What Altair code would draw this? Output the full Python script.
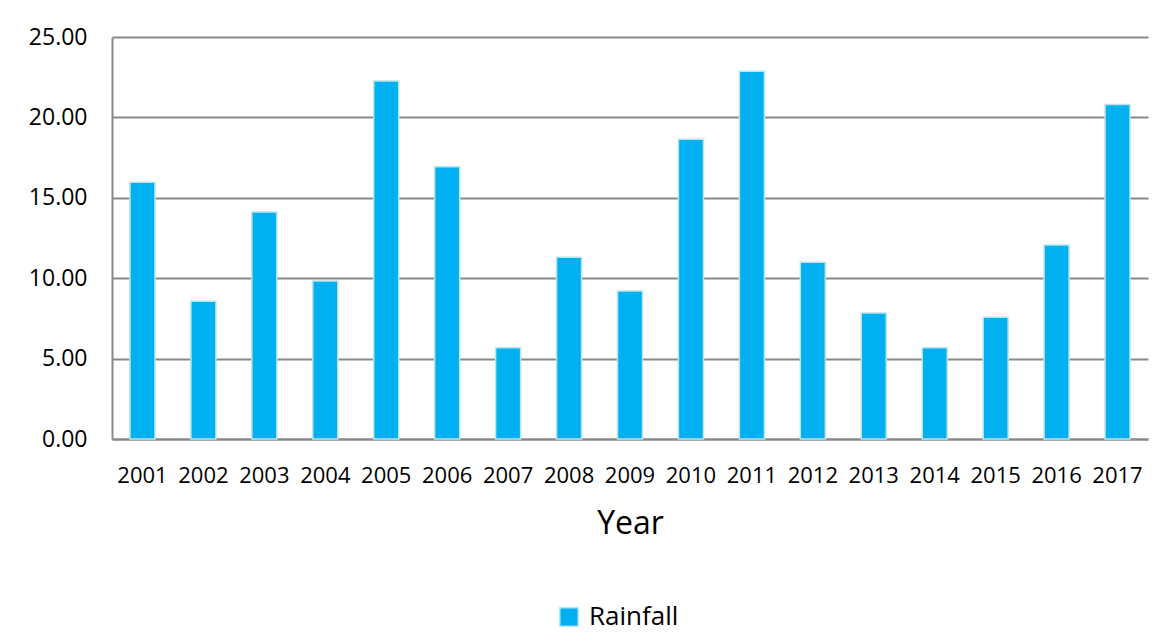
import altair as alt
import pandas as pd

years = ["2001", "2002", "2003", "2004", "2005", "2006", "2007", "2008", "2009",
         "2010", "2011", "2012", "2013", "2014", "2015", "2016", "2017"]
rainfall = [15.96, 8.56, 14.12, 9.83, 22.26, 16.93, 5.68, 11.30, 9.20,
            18.64, 22.87, 10.99, 7.84, 5.68, 7.57, 12.06, 20.81]
series = ["Rainfall"] * len(years)
y_ticks = [0, 5, 10, 15, 20, 25]

df = pd.DataFrame({"Year": years, "Rainfall": rainfall, "Series": series})

FONT = "Open Sans"
GRID = "#888888"

bars = alt.Chart(df).mark_bar(
    stroke="#BDE3EA", strokeWidth=1.5, fillOpacity=1
).encode(
    x=alt.X("Year:N", sort=years,
            scale=alt.Scale(paddingInner=0.59, paddingOuter=0.295),
            axis=alt.Axis(title="Year", labelAngle=0, ticks=False, tickSize=0,
                          labelFont=FONT, labelFontSize=22, labelColor="#000000",
                          labelBaseline="alphabetic", labelPadding=43,
                          titleFont=FONT, titleFontSize=32, titleFontWeight="normal",
                          titleColor="#000000", titleBaseline="alphabetic", titleY=94,
                          domainColor=GRID, domainWidth=2, grid=False)),
    y=alt.Y("Rainfall:Q",
            scale=alt.Scale(domain=[0, 25], nice=False, zero=True),
            axis=alt.Axis(title=None, values=y_ticks, format=".2f", ticks=False, tickSize=0,
                          labelFont=FONT, labelFontSize=23, labelColor="#000000",
                          labelPadding=25, gridColor=GRID, gridWidth=1.8,
                          domainColor=GRID, domainWidth=2)),
    color=alt.Color("Series:N",
                    scale=alt.Scale(domain=["Rainfall"], range=["#00B0F0"]),
                    legend=alt.Legend(title=None, orient="none", legendX=444, legendY=567,
                                      symbolType="square", symbolSize=340,
                                      symbolStrokeColor="#BDE3EA", symbolStrokeWidth=1.5,
                                      symbolOpacity=1, labelFont=FONT, labelFontSize=26,
                                      labelColor="#000000", labelOffset=7)),
)

chart = bars.properties(
    width=1036, height=402,
    autosize=alt.AutoSizeParams(type="none"),
    padding={"left": 104, "top": 29, "right": 9, "bottom": 196},
    background="#FFFFFF",
).configure_view(stroke=None)

chart.save("out.html", embed_options={"renderer": "svg", "actions": False})
